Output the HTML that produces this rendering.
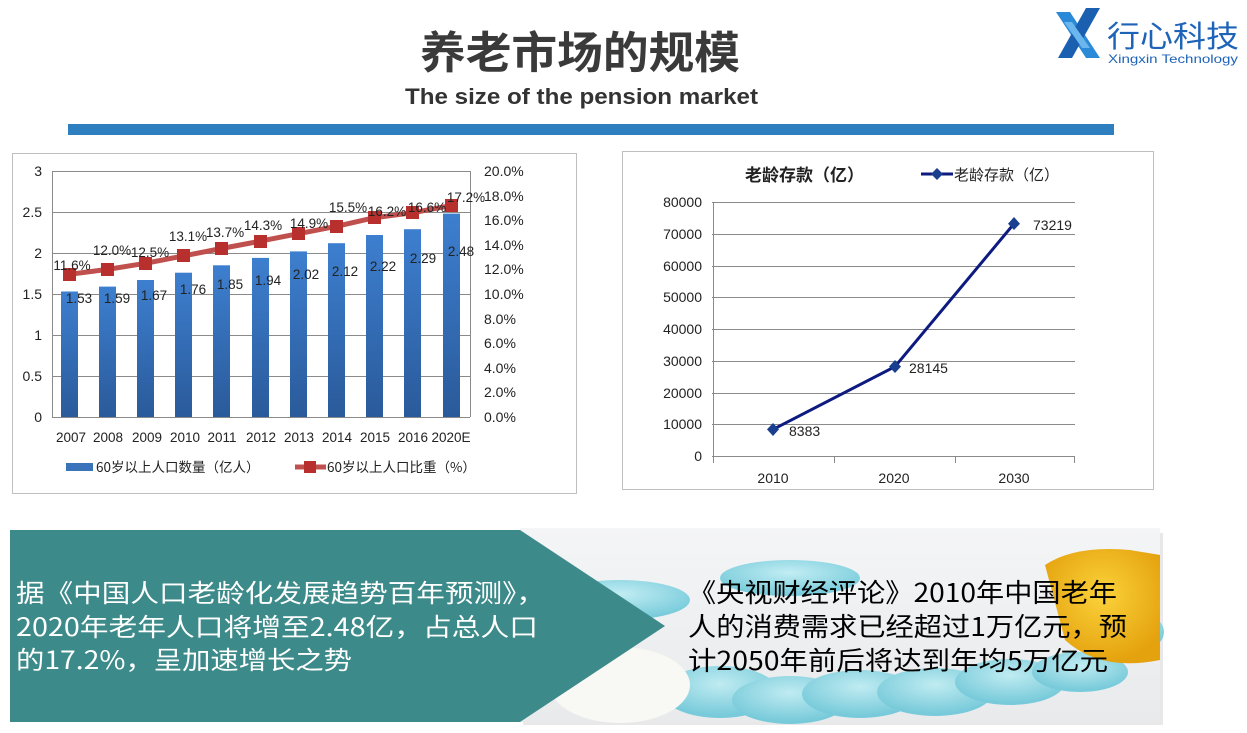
<!DOCTYPE html>
<html><head><meta charset="utf-8"><style>
body{margin:0;width:1247px;height:728px;background:#fff;overflow:hidden;font-family:"Liberation Sans","Noto Sans CJK SC",sans-serif}
</style></head><body>
<svg width="1247" height="728" viewBox="0 0 1247 728" xmlns="http://www.w3.org/2000/svg" font-family="Liberation Sans, Noto Sans CJK SC, sans-serif">
<defs>
<linearGradient id="bar" x1="0" y1="0" x2="0" y2="1"><stop offset="0" stop-color="#3d7fcf"/><stop offset="1" stop-color="#2a5a9a"/></linearGradient>
<linearGradient id="bg" x1="0" y1="0" x2="0" y2="1"><stop offset="0" stop-color="#f4f5f6"/><stop offset="1" stop-color="#e8eaec"/></linearGradient>
<radialGradient id="pill" cx="0.5" cy="0.35" r="0.6"><stop offset="0" stop-color="#b6ecf3"/><stop offset="1" stop-color="#5cc3d6"/></radialGradient>
<radialGradient id="yel" cx="0.5" cy="0.4" r="0.6"><stop offset="0" stop-color="#fbd23a"/><stop offset="1" stop-color="#e4a20e"/></radialGradient>
</defs>
<text x="420" y="68" textLength="320" lengthAdjust="spacingAndGlyphs" font-size="44" font-weight="bold" fill="#3a3a3a" font-family="Noto Sans CJK SC, sans-serif">养老市场的规模</text>
<text x="405" y="104" textLength="353" lengthAdjust="spacingAndGlyphs" font-size="22" font-weight="bold" fill="#333">The size of the pension market</text>
<rect x="68" y="124" width="1046" height="11" fill="#2e7fc0"/>
<g>
<path d="M1056 12 L1070 12 L1100 58 L1086 58Z" fill="#2a8ad8"/>
<path d="M1100 8 L1086 8 L1058 58 L1072 58Z" fill="#1a5fb0"/>
<path d="M1064 22 L1072 22 L1090 48 L1082 48Z" fill="#6cb6ee"/>
<text x="1107" y="47" textLength="132" lengthAdjust="spacingAndGlyphs" font-size="30" fill="#1d63b8" font-family="Noto Sans CJK SC, sans-serif">行心科技</text>
<text x="1108" y="63" textLength="130" lengthAdjust="spacingAndGlyphs" font-size="12" fill="#1d63b8">Xingxin Technology</text>
</g>
<rect x="12.5" y="153.5" width="564" height="340" fill="#fff" stroke="#bfbfbf"/>
<g stroke="#8a8a8a" stroke-width="1">
<line x1="52" y1="171.5" x2="470" y2="171.5"/><line x1="52" y1="212.5" x2="470" y2="212.5"/>
<line x1="52" y1="253.5" x2="470" y2="253.5"/><line x1="52" y1="294.5" x2="470" y2="294.5"/>
<line x1="52" y1="335.5" x2="470" y2="335.5"/><line x1="52" y1="376.5" x2="470" y2="376.5"/>
<line x1="52" y1="417.5" x2="470" y2="417.5"/>
<line x1="52.5" y1="171" x2="52.5" y2="417"/><line x1="470.5" y1="171" x2="470.5" y2="417"/>
</g>
<g font-size="14" fill="#222" text-anchor="end">
<text x="42" y="176">3</text><text x="42" y="217">2.5</text><text x="42" y="258">2</text><text x="42" y="299">1.5</text><text x="42" y="340">1</text><text x="42" y="381">0.5</text><text x="42" y="422">0</text>
</g>
<g font-size="14" fill="#222">
<text x="484" y="176">20.0%</text><text x="484" y="201">18.0%</text><text x="484" y="225">16.0%</text><text x="484" y="250">14.0%</text><text x="484" y="274">12.0%</text><text x="484" y="299">10.0%</text><text x="484" y="324">8.0%</text><text x="484" y="348">6.0%</text><text x="484" y="373">4.0%</text><text x="484" y="397">2.0%</text><text x="484" y="422">0.0%</text>
</g>
<g fill="url(#bar)">
<rect x="61" y="291.5" width="17" height="125.5"/>
<rect x="99" y="286.6" width="17" height="130.4"/>
<rect x="137" y="280" width="17" height="137"/>
<rect x="175" y="272.7" width="17" height="144.3"/>
<rect x="213" y="265.3" width="17" height="151.7"/>
<rect x="252" y="257.9" width="17" height="159.1"/>
<rect x="290" y="251.4" width="17" height="165.6"/>
<rect x="328" y="243.2" width="17" height="173.8"/>
<rect x="366" y="235" width="17" height="182"/>
<rect x="404" y="229.2" width="17" height="187.8"/>
<rect x="443" y="213.6" width="17" height="203.4"/>
</g>
<polyline points="69.5,274.3 107.5,269.4 145.5,263.3 183.5,255.9 221.5,248.5 260.5,241.1 298.5,233.7 336.5,226.3 374.5,217.7 412.5,212.8 451.5,205.4" fill="none" stroke="#c0504d" stroke-width="5" stroke-linejoin="round"/>
<g fill="#b8302e">
<rect x="63" y="268" width="13" height="13"/><rect x="101" y="263" width="13" height="13"/><rect x="139" y="257" width="13" height="13"/><rect x="177" y="249" width="13" height="13"/><rect x="215" y="242" width="13" height="13"/><rect x="254" y="235" width="13" height="13"/><rect x="292" y="227" width="13" height="13"/><rect x="330" y="220" width="13" height="13"/><rect x="368" y="211" width="13" height="13"/><rect x="406" y="206" width="13" height="13"/><rect x="445" y="199" width="13" height="13"/>
</g>
<g font-size="13.5" fill="#222" text-anchor="middle">
<text x="72" y="270">11.6%</text><text x="112" y="255">12.0%</text><text x="150" y="257">12.5%</text><text x="188" y="241">13.1%</text><text x="225" y="237">13.7%</text><text x="263" y="230">14.3%</text><text x="309" y="228">14.9%</text><text x="348" y="212">15.5%</text><text x="387" y="216">16.2%</text><text x="427" y="212">16.6%</text><text x="466" y="202">17.2%</text>
<text x="79" y="303">1.53</text><text x="117" y="303">1.59</text><text x="154" y="300">1.67</text><text x="193" y="294">1.76</text><text x="230" y="289">1.85</text><text x="268" y="285">1.94</text><text x="306" y="279">2.02</text><text x="345" y="276">2.12</text><text x="383" y="271">2.22</text><text x="423" y="263">2.29</text><text x="461" y="256">2.48</text>
</g>
<g font-size="13.5" fill="#222" text-anchor="middle">
<text x="71" y="442">2007</text><text x="108" y="442">2008</text><text x="147" y="442">2009</text><text x="185" y="442">2010</text><text x="222" y="442">2011</text><text x="261" y="442">2012</text><text x="299" y="442">2013</text><text x="337" y="442">2014</text><text x="375" y="442">2015</text><text x="413" y="442">2016</text><text x="451" y="442">2020E</text>
</g>
<rect x="66" y="463" width="27" height="8" fill="#3a72bb"/>
<text x="96" y="472" font-size="13.5" fill="#222" font-family="Noto Sans CJK SC, sans-serif">60岁以上人口数量（亿人）</text>
<line x1="295" y1="467" x2="326" y2="467" stroke="#c0504d" stroke-width="5"/>
<rect x="304" y="461" width="12" height="12" fill="#b8302e"/>
<text x="327" y="472" font-size="13.5" fill="#222" font-family="Noto Sans CJK SC, sans-serif">60岁以上人口比重（%）</text>
<rect x="622.5" y="151.5" width="531" height="338" fill="#fff" stroke="#bfbfbf"/>
<g stroke="#8a8a8a">
<line x1="712" y1="202.5" x2="1075" y2="202.5"/><line x1="712" y1="234.5" x2="1075" y2="234.5"/><line x1="712" y1="266.5" x2="1075" y2="266.5"/><line x1="712" y1="297.5" x2="1075" y2="297.5"/><line x1="712" y1="329.5" x2="1075" y2="329.5"/><line x1="712" y1="361.5" x2="1075" y2="361.5"/><line x1="712" y1="393.5" x2="1075" y2="393.5"/><line x1="712" y1="424.5" x2="1075" y2="424.5"/><line x1="712" y1="456.5" x2="1075" y2="456.5"/>
<line x1="713.5" y1="202" x2="713.5" y2="456"/>
<line x1="713.5" y1="456" x2="713.5" y2="463"/><line x1="834.5" y1="456" x2="834.5" y2="463"/><line x1="955.5" y1="456" x2="955.5" y2="463"/><line x1="1074.5" y1="456" x2="1074.5" y2="463"/>
</g>
<g font-size="14" fill="#222" text-anchor="end">
<text x="702" y="207">80000</text><text x="702" y="239">70000</text><text x="702" y="271">60000</text><text x="702" y="302">50000</text><text x="702" y="334">40000</text><text x="702" y="366">30000</text><text x="702" y="398">20000</text><text x="702" y="429">10000</text><text x="702" y="461">0</text>
</g>
<g font-size="14" fill="#222" text-anchor="middle"><text x="773" y="483">2010</text><text x="894" y="483">2020</text><text x="1014" y="483">2030</text></g>
<polyline points="773,429.4 895,366.6 1014,223.7" fill="none" stroke="#0d1a80" stroke-width="3"/>
<g fill="#1a3f8e">
<path d="M773 423 L779 429.4 L773 436 L767 429.4Z"/><path d="M895 360 L901 366.6 L895 373 L889 366.6Z"/><path d="M1014 217 L1020 223.7 L1014 230 L1008 223.7Z"/>
</g>
<g font-size="14" fill="#222"><text x="789" y="436">8383</text><text x="909" y="373">28145</text><text x="1033" y="230">73219</text></g>
<text x="745" y="181" font-size="17" font-weight="bold" fill="#222" font-family="Noto Sans CJK SC, sans-serif">老龄存款（亿）</text>
<line x1="921" y1="174" x2="953" y2="174" stroke="#0d1a80" stroke-width="3"/>
<path d="M937 168 L943 174 L937 180 L931 174Z" fill="#1a3f8e"/>
<text x="954" y="180" font-size="15" fill="#222" font-family="Noto Sans CJK SC, sans-serif">老龄存款（亿）</text>
<rect x="523" y="533" width="640" height="192" fill="#d8d8d8" opacity="0.6"/>
<rect x="520" y="528" width="640" height="194" fill="url(#bg)"/>
<g fill="url(#pill)" opacity="0.8">
<ellipse cx="620" cy="600" rx="70" ry="20"/><ellipse cx="790" cy="578" rx="70" ry="18"/>
<ellipse cx="720" cy="692" rx="58" ry="26"/><ellipse cx="790" cy="700" rx="58" ry="24"/><ellipse cx="860" cy="694" rx="58" ry="24"/><ellipse cx="935" cy="692" rx="58" ry="24"/><ellipse cx="1010" cy="682" rx="55" ry="23"/><ellipse cx="1080" cy="672" rx="48" ry="20"/>
<ellipse cx="1140" cy="632" rx="24" ry="18"/>
</g>
<ellipse cx="620" cy="685" rx="70" ry="38" fill="#f8f8f4"/>
<path d="M1045 565 Q1075 545 1130 550 L1160 555 L1160 660 Q1100 672 1065 640Z" fill="url(#yel)"/>
<path d="M10 530 L520 530 L665 626 L520 722 L10 722Z" fill="#3d8a8a"/>
<g font-size="25" fill="#fff" font-family="Noto Sans CJK SC, sans-serif" lengthAdjust="spacingAndGlyphs">
<text x="16" y="602" textLength="529" lengthAdjust="spacingAndGlyphs">据《中国人口老龄化发展趋势百年预测》，</text>
<text x="16" y="636" textLength="522" lengthAdjust="spacingAndGlyphs">2020年老年人口将增至2.48亿，占总人口</text>
<text x="16" y="669" textLength="336" lengthAdjust="spacingAndGlyphs">的17.2%，呈加速增长之势</text>
</g>
<g font-size="26" fill="#000" font-family="Noto Sans CJK SC, sans-serif">
<text x="688" y="602" textLength="429" lengthAdjust="spacingAndGlyphs">《央视财经评论》2010年中国老年</text>
<text x="688" y="636" textLength="439" lengthAdjust="spacingAndGlyphs">人的消费需求已经超过1万亿元，预</text>
<text x="688" y="670" textLength="420" lengthAdjust="spacingAndGlyphs">计2050年前后将达到年均5万亿元</text>
</g>
</svg>
</body></html>
